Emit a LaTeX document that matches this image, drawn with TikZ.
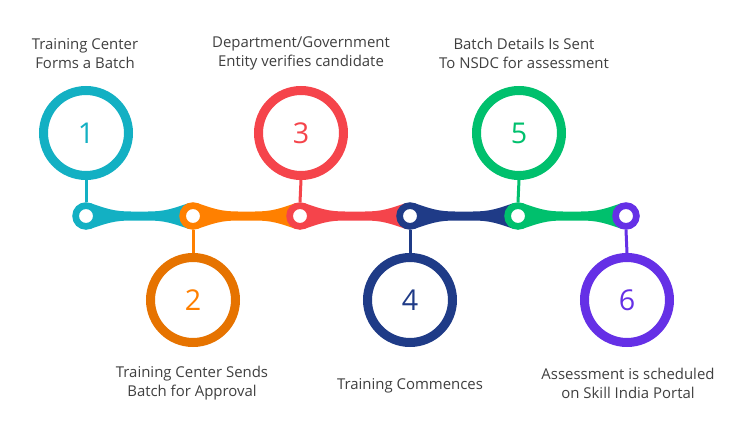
\documentclass[tikz,border=0pt]{standalone}
\usepackage{fontspec}
\setmainfont{Open Sans}
\usetikzlibrary{calc}
\definecolor{cteal}{HTML}{13B0C3}
\definecolor{corange}{HTML}{FF8000}
\definecolor{corangering}{HTML}{E67300}
\definecolor{cred}{HTML}{F5444B}
\definecolor{cblue}{HTML}{1F3B87}
\definecolor{cgreen}{HTML}{00C06D}
\definecolor{cpurple}{HTML}{6530E6}
\definecolor{ctext}{HTML}{3F3F3F}
\tikzset{
  bigring/.style={circle, draw=#1, line width=6.75pt, fill=white, minimum size=63.75pt, inner sep=0pt,
    font=\fontsize{21.5}{21.5}\selectfont},
  dotring/.style={circle, draw=#1, line width=5pt, fill=white, minimum size=15.6pt, inner sep=0pt},
  stem/.style={draw=#1, line width=2.25pt},
  label/.style={align=center, text=ctext, font=\fontsize{11.2}{14.25}\selectfont, inner sep=0pt}
}
\newcommand{\band}[3]{%
  \fill[#3] ($(#1)+(4,-13)$) .. controls ($(#1)+(20,-7.5)$) and ($(#1)+(28,-4.5)$) .. ($(#1)+(45,-4.5)$)
    -- ($(#2)+(-45,-4.5)$) .. controls ($(#2)+(-28,-4.5)$) and ($(#2)+(-20,-7.5)$) .. ($(#2)+(-4,-13)$)
    -- ($(#2)+(-4,13)$) .. controls ($(#2)+(-20,7.5)$) and ($(#2)+(-28,4.5)$) .. ($(#2)+(-45,4.5)$)
    -- ($(#1)+(45,4.5)$) .. controls ($(#1)+(28,4.5)$) and ($(#1)+(20,7.5)$) .. ($(#1)+(4,13)$) -- cycle;}
\begin{document}
\begin{tikzpicture}[x=0.75pt,y=-0.75pt]
\useasboundingbox (0,0) rectangle (744,432);
% dot positions
\coordinate (p1) at (86,216);
\coordinate (p2) at (193,216);
\coordinate (p3) at (300,216);
\coordinate (p4) at (410,216);
\coordinate (p5) at (518,216);
\coordinate (p6) at (626,216);
% bands
\band{p1}{p2}{cteal}
\band{p2}{p3}{corange}
\band{p3}{p4}{cred}
\band{p4}{p5}{cblue}
\band{p5}{p6}{cgreen}
% big circles
\node[bigring=cteal, text=cteal] (c1) at (86,133) {1};
\node[bigring=corangering, text=corange] (c2) at (193,300) {2};
\node[bigring=cred, text=cred] (c3) at (301,133) {3};
\node[bigring=cblue, text=cblue] (c4) at (410,300) {4};
\node[bigring=cgreen, text=cgreen] (c5) at (519,133) {5};
\node[bigring=cpurple, text=cpurple] (c6) at (627,300) {6};
% dots
\node[dotring=cteal] (d1) at (p1) {};
\node[dotring=corange] (d2) at (p2) {};
\node[dotring=cred] (d3) at (p3) {};
\node[dotring=cblue] (d4) at (p4) {};
\node[dotring=cgreen] (d5) at (p5) {};
\node[dotring=cpurple] (d6) at (p6) {};
% stems
\draw[stem=cteal] (c1.south) -- (d1.north);
\draw[stem=corange] (d2.south) -- (c2.north);
\draw[stem=cred] (c3.south) -- (d3.north);
\draw[stem=cblue] (d4.south) -- (c4.north);
\draw[stem=cgreen] (c5.south) -- (d5.north);
\draw[stem=cpurple] (d6.south) -- (c6.north);
% labels
\node[label] (t1) at (85,53.5) {Training Center\\Forms a Batch};
\node[label] (t3) at (301,53.5) {Department/Government\\Entity verifies candidate};
\node[label] (t5) at (524,53.5) {Batch Details Is Sent\\To NSDC for assessment};
\node[label] (t2) at (192,383.5) {Training Center Sends\\Batch for Approval};
\node[label] (t4) at (410,386) {Training Commences};
\node[label] (t6) at (628,383.5) {Assessment is scheduled\\on Skill India Portal};
\end{tikzpicture}
\end{document}
